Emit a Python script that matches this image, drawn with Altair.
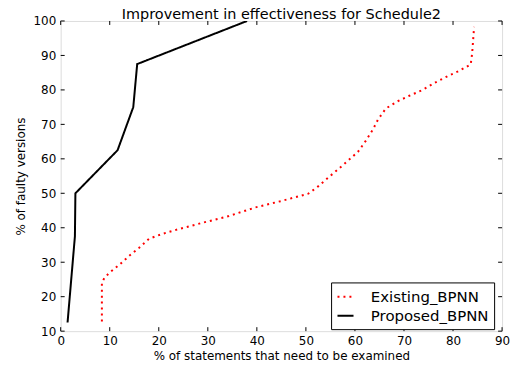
import altair as alt
import pandas as pd

existing_x = [8.4, 8.4, 8.9, 9.9, 12.0, 14.0, 16.0, 18.0, 20.7, 23.3, 28.8, 34.3, 39.7, 45.1, 50.5,
              52.5, 54.5, 56.6, 58.6, 60.6, 62.2, 63.7, 64.7, 66.3, 68.7, 71.1, 73.8, 76.2, 78.5,
              81.2, 83.6, 83.9, 84.1, 84.3]
existing_y = [12.8, 24.0, 25.4, 26.9, 29.3, 31.9, 34.2, 36.8, 38.2, 39.3, 41.4, 43.4, 45.9, 47.8, 49.9,
              52.0, 54.5, 57.0, 59.5, 62.0, 65.2, 68.6, 71.4, 74.6, 76.7, 78.3, 80.0, 82.0, 83.7,
              85.5, 87.4, 90.6, 94.5, 98.3]
proposed_x = [1.4, 2.9, 3.0, 11.6, 14.8, 15.6, 38.0]
proposed_y = [12.5, 37.5, 50.0, 62.5, 75.0, 87.5, 100.0]
series = ["Existing_BPNN", "Proposed_BPNN"]
x_ticks = [0, 10, 20, 30, 40, 50, 60, 70, 80, 90]
y_ticks = [10, 20, 30, 40, 50, 60, 70, 80, 90, 100]

rows = []
for i, (a, b) in enumerate(zip(existing_x, existing_y)):
    rows.append({"x": a, "y": b, "s": series[0], "o": i})
for i, (a, b) in enumerate(zip(proposed_x, proposed_y)):
    rows.append({"x": a, "y": b, "s": series[1], "o": i})
df = pd.DataFrame(rows)

W, H = 444, 312
FONT = "DejaVu Sans"

xs = alt.Scale(domain=[0, 90], nice=False, zero=False)
ys = alt.Scale(domain=[10, 100], nice=False, zero=False)

x_axis = alt.Axis(values=x_ticks, grid=False, ticks=False, domain=False, labelOverlap=False,
                  labelFlush=False, labelFontSize=12, labelPadding=4, titleFontSize=12,
                  titleFontWeight="normal", titlePadding=5, labelColor="black",
                  titleColor="black", labelFont=FONT, titleFont=FONT, format="d")
y_axis = alt.Axis(values=y_ticks, grid=False, ticks=False, domain=False, labelOverlap=False,
                  labelFlush=False, labelFontSize=12, labelPadding=5, titleFontSize=12,
                  titleFontWeight="normal", titlePadding=5, labelColor="black",
                  titleColor="black", labelFont=FONT, titleFont=FONT, format="d")
XT = "% of statements that need to be examined"
YT = "% of faulty versions"

lines = alt.Chart(df).mark_line(strokeWidth=2, clip=True).encode(
    x=alt.X("x:Q", scale=xs, title=XT, axis=x_axis),
    y=alt.Y("y:Q", scale=ys, title=YT, axis=y_axis),
    color=alt.Color("s:N", scale=alt.Scale(domain=series, range=["#ff0000", "#000000"]),
                    legend=alt.Legend(title=None, orient="none", legendX=272, legendY=263,
                                      symbolType="stroke", symbolStrokeWidth=2, symbolSize=260,
                                      labelFontSize=15, labelFont=FONT, labelColor="black",
                                      strokeColor="black", fillColor="white", padding=5,
                                      rowPadding=1, labelOffset=16, cornerRadius=0)),
    strokeDash=alt.StrokeDash("s:N", scale=alt.Scale(domain=series, range=[[2, 4], [1, 0]]),
                              legend=None),
    order="o:Q",
)

xt = pd.DataFrame({"v": x_ticks})
yt = pd.DataFrame({"v": y_ticks})
tx_b = alt.Chart(xt).mark_rule(color="black").encode(x=alt.X("v:Q", scale=xs, title=XT, axis=x_axis), y=alt.value(H), y2=alt.value(H - 4))
tx_t = alt.Chart(xt).mark_rule(color="black").encode(x=alt.X("v:Q", scale=xs, title=XT, axis=x_axis), y=alt.value(0), y2=alt.value(4))
ty_l = alt.Chart(yt).mark_rule(color="black").encode(y=alt.Y("v:Q", scale=ys, title=YT, axis=y_axis), x=alt.value(0), x2=alt.value(4))
ty_r = alt.Chart(yt).mark_rule(color="black").encode(y=alt.Y("v:Q", scale=ys, title=YT, axis=y_axis), x=alt.value(W), x2=alt.value(W - 4))

chart = alt.layer(lines, tx_b, tx_t, ty_l, ty_r).properties(
    width=W, height=H,
    title=alt.Title("Improvement in effectiveness for Schedule2", fontSize=14.5, font=FONT,
                    fontWeight="normal", color="black", offset=-8),
    autosize=alt.AutoSizeParams(type="none"),
    padding={"left": 53, "top": 12, "right": 12, "bottom": 34},
).configure_view(stroke="black", strokeWidth=1.2).configure(background="white")

chart.save("out.html", embed_options={"renderer": "svg", "actions": False})
